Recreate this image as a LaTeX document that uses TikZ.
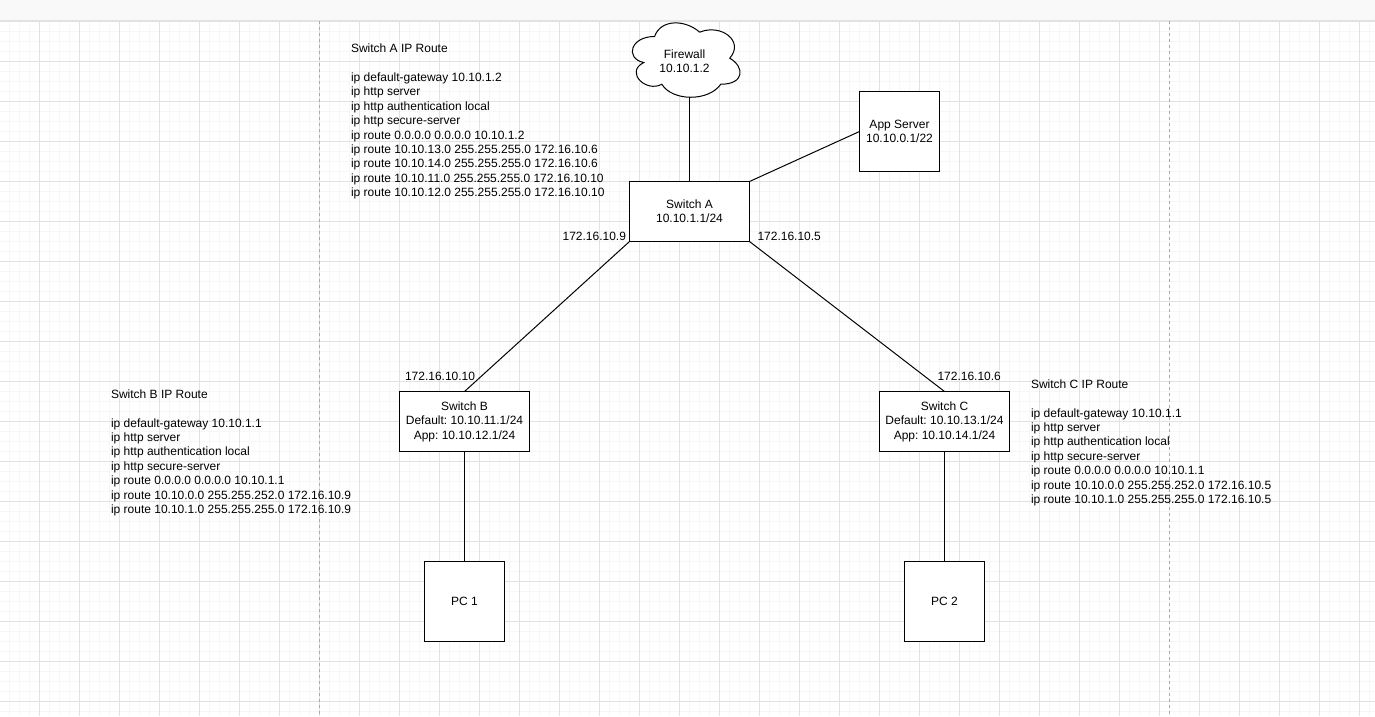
\documentclass[tikz,border=0pt]{standalone}
\usepackage{fontspec}
\setmainfont{Liberation Sans}
\frenchspacing
\definecolor{gridmaj}{RGB}{226,226,226}
\definecolor{gridmin}{RGB}{247,247,247}
\definecolor{barfill}{RGB}{249,249,249}
\definecolor{barline}{RGB}{226,226,226}
\definecolor{pagedash}{RGB}{170,170,170}
\begin{document}
\begin{tikzpicture}[x=1pt,y=-1pt,
  every node/.style={font=\fontsize{12}{14.4}\selectfont, inner sep=0pt, outer sep=0pt},
  box/.style={draw=black, line width=1pt, fill=white, align=center},
  link/.style={draw=black, line width=1pt},
  routetext/.style={align=left, anchor=north west},
  iplabel/.style={}
]
\useasboundingbox (0,0) rectangle (1375,716);
\fill[white] (0,0) rectangle (1375,716);
% grid
\foreach \k in {0,...,136} {\draw[gridmin, line width=1pt] (9.5+10*\k,21) -- (9.5+10*\k,716);}
\foreach \k in {0,...,69} {\draw[gridmin, line width=1pt] (0,21.5+10*\k) -- (1375,21.5+10*\k);}
\foreach \k in {0,...,33} {\draw[gridmaj, line width=1pt] (39.5+40*\k,21) -- (39.5+40*\k,716);}
\foreach \k in {0,...,17} {\draw[gridmaj, line width=1pt] (0,21.5+40*\k) -- (1375,21.5+40*\k);}
\draw[pagedash, line width=1pt, dash pattern=on 3pt off 3pt] (319.5,21) -- (319.5,716);
\draw[pagedash, line width=1pt, dash pattern=on 3pt off 3pt] (1169.5,21) -- (1169.5,716);
% top bar
\fill[barfill] (0,0) rectangle (1375,20);
\draw[barline, line width=1pt] (0,20.5) -- (1375,20.5);

% firewall cloud
\begin{scope}[shift={(624.5,14.8)}, xscale=120.3, yscale=86.8]
\draw[black, fill=white, line width=1pt] (0.25,0.25) .. controls (0.05,0.25) and (0,0.5) .. (0.16,0.55)
 .. controls (0,0.66) and (0.18,0.9) .. (0.31,0.8)
 .. controls (0.4,1) and (0.7,1) .. (0.8,0.8)
 .. controls (1,0.8) and (1,0.6) .. (0.875,0.5)
 .. controls (1,0.3) and (0.8,0.1) .. (0.625,0.2)
 .. controls (0.5,0.05) and (0.3,0.05) .. (0.25,0.25) -- cycle;
\end{scope}
\node[align=center] (fw) at (684.5,61.5) {Firewall\\10.10.1.2};
\coordinate (fwb) at (689.5,96.5);

% nodes
\node[box, minimum width=120pt, minimum height=60pt] (swA) at (689.5,211.5) {Switch A\\10.10.1.1/24};
\node[box, minimum width=80pt, minimum height=80pt] (app) at (899.5,131.5) {App Server\\10.10.0.1/22};
\node[box, minimum width=130pt, minimum height=60pt] (swB) at (464.5,421.5) {Switch B\\Default: 10.10.11.1/24\\App: 10.10.12.1/24};
\node[box, minimum width=130pt, minimum height=60pt] (swC) at (944.5,421.5) {Switch C\\Default: 10.10.13.1/24\\App: 10.10.14.1/24};
\node[box, minimum width=80pt, minimum height=80pt] (pc1) at (464.5,601.5) {PC 1};
\node[box, minimum width=80pt, minimum height=80pt] (pc2) at (944.5,601.5) {PC 2};

% links
\draw[link] (fwb) -- (swA.north -| fwb);
\draw[link] (app.west) -- (swA.north east);
\draw[link] (swA.south west) -- (swB.north);
\draw[link] (swA.south east) -- (swC.north);
\draw[link] (swB.south) -- (pc1.north);
\draw[link] (swC.south) -- (pc2.north);

% interface labels
\node[iplabel, anchor=base east] (l9) at (626,240) {172.16.10.9};
\node[iplabel, anchor=base west] (l5) at (757.5,240) {172.16.10.5};
\node[iplabel, anchor=base west] (l10) at (405,380) {172.16.10.10};
\node[iplabel, anchor=base west] (l6) at (937.5,380) {172.16.10.6};

% route text blocks
\node[routetext] (ra) at (351,42.6) {\strut Switch A IP Route\\ \\
ip default-gateway 10.10.1.2\\
ip http server\\
ip http authentication local\\
ip http secure-server\\
ip route 0.0.0.0 0.0.0.0 10.10.1.2\\
ip route 10.10.13.0 255.255.255.0 172.16.10.6\\
ip route 10.10.14.0 255.255.255.0 172.16.10.6\\
ip route 10.10.11.0 255.255.255.0 172.16.10.10\\
ip route 10.10.12.0 255.255.255.0 172.16.10.10};

\node[routetext] (rb) at (111,388.3) {\strut Switch B IP Route\\ \\
ip default-gateway 10.10.1.1\\
ip http server\\
ip http authentication local\\
ip http secure-server\\
ip route 0.0.0.0 0.0.0.0 10.10.1.1\\
ip route 10.10.0.0 255.255.252.0 172.16.10.9\\
ip route 10.10.1.0 255.255.255.0 172.16.10.9};

\node[routetext] (rc) at (1031,378.3) {\strut Switch C IP Route\\ \\
ip default-gateway 10.10.1.1\\
ip http server\\
ip http authentication local\\
ip http secure-server\\
ip route 0.0.0.0 0.0.0.0 10.10.1.1\\
ip route 10.10.0.0 255.255.252.0 172.16.10.5\\
ip route 10.10.1.0 255.255.255.0 172.16.10.5};
\end{tikzpicture}
\end{document}
